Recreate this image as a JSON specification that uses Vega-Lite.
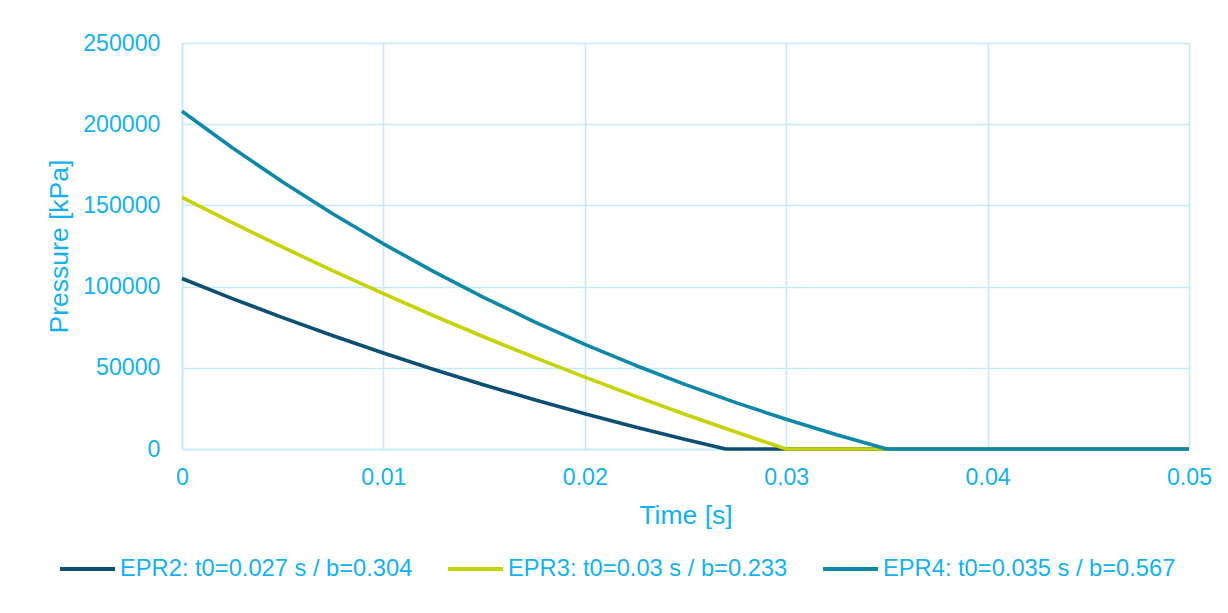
{
  "$schema": "https://vega.github.io/schema/vega-lite/v6.json",
  "width": 1007,
  "height": 406,
  "autosize": {"type": "none"},
  "padding": {"left": 182, "top": 43, "right": 39, "bottom": 164},
  "background": "white",
  "config": {
    "view": {"stroke": null},
    "font": "Liberation Sans",
    "axis": {
      "gridColor": "#c3eafb",
      "gridWidth": 1.6,
      "domainColor": "#c3eafb",
      "domainWidth": 1.6,
      "ticks": false,
      "labelColor": "#14b1ef",
      "titleColor": "#14b1ef",
      "labelFont": "Liberation Sans",
      "titleFont": "Liberation Sans",
      "labelFontSize": 23.2,
      "titleFontSize": 26.5,
      "titleFontWeight": "normal"
    },
    "legend": {
      "labelColor": "#14b1ef",
      "labelFont": "Liberation Sans",
      "labelFontSize": 23.7,
      "labelLimit": 0
    }
  },
  "data": {
    "values": [
      {"series": "EPR2: t0=0.027 s / b=0.304", "t": 0, "p": 105000},
      {"series": "EPR2: t0=0.027 s / b=0.304", "t": 0.0025, "p": 92633},
      {"series": "EPR2: t0=0.027 s / b=0.304", "t": 0.005, "p": 80872},
      {"series": "EPR2: t0=0.027 s / b=0.304", "t": 0.0075, "p": 69694},
      {"series": "EPR2: t0=0.027 s / b=0.304", "t": 0.01, "p": 59072},
      {"series": "EPR2: t0=0.027 s / b=0.304", "t": 0.0125, "p": 48986},
      {"series": "EPR2: t0=0.027 s / b=0.304", "t": 0.015, "p": 39415},
      {"series": "EPR2: t0=0.027 s / b=0.304", "t": 0.0175, "p": 30338},
      {"series": "EPR2: t0=0.027 s / b=0.304", "t": 0.02, "p": 21733},
      {"series": "EPR2: t0=0.027 s / b=0.304", "t": 0.0225, "p": 13584},
      {"series": "EPR2: t0=0.027 s / b=0.304", "t": 0.025, "p": 5870},
      {"series": "EPR2: t0=0.027 s / b=0.304", "t": 0.027, "p": 0},
      {"series": "EPR2: t0=0.027 s / b=0.304", "t": 0.05, "p": 0},
      {"series": "EPR3: t0=0.03 s / b=0.233", "t": 0, "p": 155000},
      {"series": "EPR3: t0=0.03 s / b=0.233", "t": 0.0025, "p": 139351},
      {"series": "EPR3: t0=0.03 s / b=0.233", "t": 0.005, "p": 124247},
      {"series": "EPR3: t0=0.03 s / b=0.233", "t": 0.0075, "p": 109673},
      {"series": "EPR3: t0=0.03 s / b=0.233", "t": 0.01, "p": 95611},
      {"series": "EPR3: t0=0.03 s / b=0.233", "t": 0.0125, "p": 82051},
      {"series": "EPR3: t0=0.03 s / b=0.233", "t": 0.015, "p": 68978},
      {"series": "EPR3: t0=0.03 s / b=0.233", "t": 0.0175, "p": 56376},
      {"series": "EPR3: t0=0.03 s / b=0.233", "t": 0.02, "p": 44233},
      {"series": "EPR3: t0=0.03 s / b=0.233", "t": 0.0225, "p": 32537},
      {"series": "EPR3: t0=0.03 s / b=0.233", "t": 0.025, "p": 21274},
      {"series": "EPR3: t0=0.03 s / b=0.233", "t": 0.0275, "p": 10433},
      {"series": "EPR3: t0=0.03 s / b=0.233", "t": 0.03, "p": 0},
      {"series": "EPR3: t0=0.03 s / b=0.233", "t": 0.05, "p": 0},
      {"series": "EPR4: t0=0.035 s / b=0.567", "t": 0, "p": 208000},
      {"series": "EPR4: t0=0.035 s / b=0.567", "t": 0.0025, "p": 185478},
      {"series": "EPR4: t0=0.035 s / b=0.567", "t": 0.005, "p": 164414},
      {"series": "EPR4: t0=0.035 s / b=0.567", "t": 0.0075, "p": 144731},
      {"series": "EPR4: t0=0.035 s / b=0.567", "t": 0.01, "p": 126352},
      {"series": "EPR4: t0=0.035 s / b=0.567", "t": 0.0125, "p": 109202},
      {"series": "EPR4: t0=0.035 s / b=0.567", "t": 0.015, "p": 93215},
      {"series": "EPR4: t0=0.035 s / b=0.567", "t": 0.0175, "p": 78327},
      {"series": "EPR4: t0=0.035 s / b=0.567", "t": 0.02, "p": 64472},
      {"series": "EPR4: t0=0.035 s / b=0.567", "t": 0.0225, "p": 51594},
      {"series": "EPR4: t0=0.035 s / b=0.567", "t": 0.025, "p": 39638},
      {"series": "EPR4: t0=0.035 s / b=0.567", "t": 0.0275, "p": 28548},
      {"series": "EPR4: t0=0.035 s / b=0.567", "t": 0.03, "p": 18276},
      {"series": "EPR4: t0=0.035 s / b=0.567", "t": 0.0325, "p": 8776},
      {"series": "EPR4: t0=0.035 s / b=0.567", "t": 0.035, "p": 0},
      {"series": "EPR4: t0=0.035 s / b=0.567", "t": 0.05, "p": 0}
    ]
  },
  "mark": {"type": "line", "strokeWidth": 3.6, "strokeCap": "butt", "strokeJoin": "round"},
  "encoding": {
    "x": {
      "field": "t",
      "type": "quantitative",
      "title": "Time [s]",
      "scale": {"domain": [0, 0.05], "nice": false},
      "axis": {"values": [0, 0.01, 0.02, 0.03, 0.04, 0.05], "format": ".2~f", "labelPadding": 17, "titlePadding": 14, "labelFlush": false}
    },
    "y": {
      "field": "p",
      "type": "quantitative",
      "title": "Pressure [kPa]",
      "scale": {"domain": [0, 250000], "nice": false},
      "axis": {"values": [0, 50000, 100000, 150000, 200000, 250000], "format": "d", "labelPadding": 22, "titlePadding": 9}
    },
    "color": {
      "field": "series",
      "type": "nominal",
      "title": null,
      "scale": {
        "domain": ["EPR2: t0=0.027 s / b=0.304", "EPR3: t0=0.03 s / b=0.233", "EPR4: t0=0.035 s / b=0.567"],
        "range": ["#0d4f73", "#c5d400", "#0e88a8"]
      },
      "legend": {
        "orient": "none",
        "direction": "horizontal",
        "legendX": -124,
        "legendY": 496,
        "symbolType": "stroke",
        "symbolSize": 3025,
        "symbolStrokeWidth": 4,
        "labelOffset": 3,
        "columnPadding": 27,
        "padding": 0
      }
    }
  }
}
